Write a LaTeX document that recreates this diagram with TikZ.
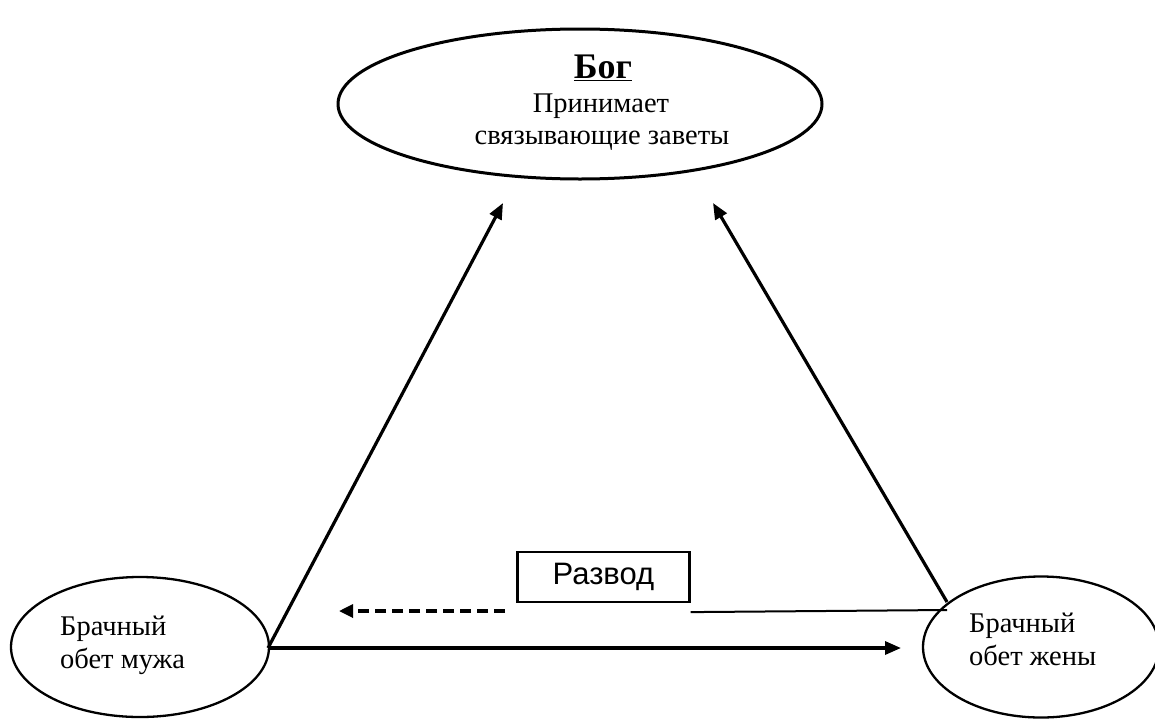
\documentclass[tikz,border=0pt]{standalone}
\usepackage{fontspec}
\setmainfont{Liberation Serif}
\newfontfamily\arialfont{Liberation Sans}
\usetikzlibrary{shapes.geometric,arrows.meta}
\tikzset{
  oval/.style={draw, ellipse, line width=#1, inner sep=0pt},
  lbl/.style={inner sep=0pt, anchor=base west, font=\fontsize{28.5}{33}\selectfont},
  conn/.style={line width=3.2pt, -{Triangle[length=16pt,width=13pt]}},
  thinconn/.style={line width=2pt},
  dashconn/.style={line width=3.2pt, dash pattern=on 11pt off 6pt, -{Triangle[length=14pt,width=13pt]}},
  boxx/.style={draw, line width=2.2pt, inner sep=0pt, font=\arialfont\fontsize{31}{34}\selectfont}
}
\begin{document}
\begin{tikzpicture}[x=1pt,y=-1pt]
\useasboundingbox (0,0) rectangle (1155,720);
% ellipses
\node[oval=3pt, minimum width=484pt, minimum height=150pt] (god) at (580,104) {};
\node[oval=2.3pt, minimum width=258pt, minimum height=140pt] (man) at (140,647) {};
\node[oval=2.3pt, minimum width=236pt, minimum height=141pt] (wife) at (1041,647) {};
% texts
\node[inner sep=0pt, anchor=base, font=\bfseries\fontsize{36}{40}\selectfont] (godt) at (603,78) {\underline{Бог}};
\node[inner sep=0pt, anchor=base, font=\fontsize{28.5}{32}\selectfont] (godt2) at (601,112) {Принимает};
\node[inner sep=0pt, anchor=base, font=\fontsize{28.5}{32}\selectfont] (godt3) at (602,144) {связывающие заветы};
\node[lbl] (mant1) at (60,635) {Брачный};
\node[lbl] (mant2) at (60,668) {обет мужа};
\node[lbl] (wifet1) at (969,632) {Брачный};
\node[lbl] (wifet2) at (969,665) {обет жены};
% divorce box
\node[boxx, minimum width=172pt, minimum height=50pt] (razv) at (603.5,577) {Развод};
% connector points
\coordinate (mE) at (268,648);
\coordinate (wNW) at (947,602);
\coordinate (tipL) at (503,203);
\coordinate (tipR) at (713,203);
\coordinate (tipH) at (901,648);
\coordinate (wL) at (947,610);
\coordinate (dS) at (505,611);
\coordinate (dE) at (339,611);
% connectors
\draw[conn] (mE) -- (tipL);
\draw[conn] (wNW) -- (tipR);
\draw[conn] (mE) -- (tipH);
\draw[thinconn] (razv.south east) ++(0,9) coordinate (rs) -- (wL);
\draw[dashconn] (dS) -- (dE);
\end{tikzpicture}
\end{document}
